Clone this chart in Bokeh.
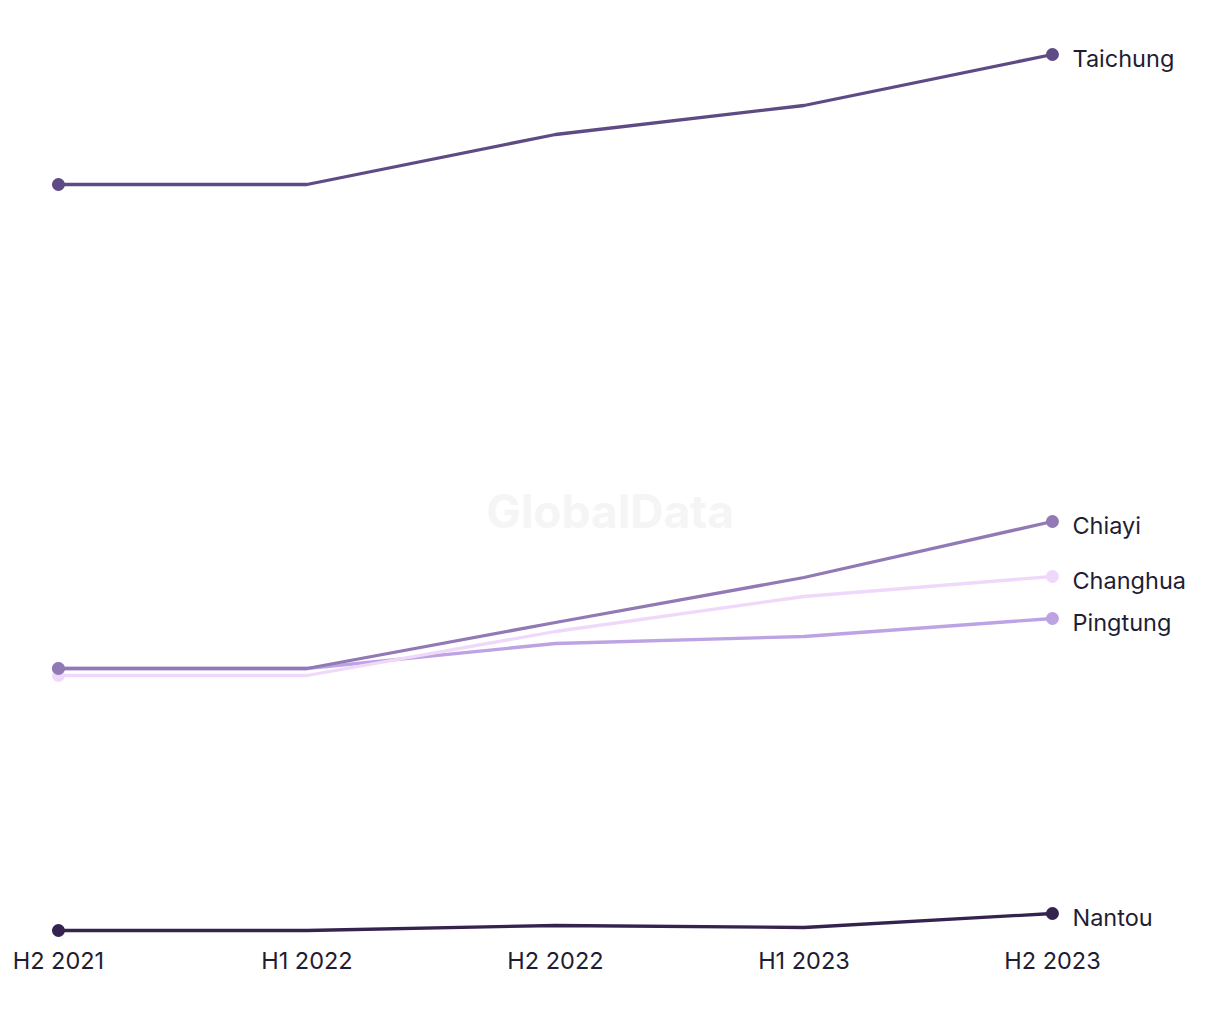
from bokeh.plotting import figure
from bokeh.models import Range1d, FixedTicker
from bokeh.core.properties import value
from bokeh.embed import file_html
from bokeh.resources import INLINE

periods = ["H2 2021", "H1 2022", "H2 2022", "H1 2023", "H2 2023"]
series_names = ["Nantou", "Pingtung", "Changhua", "Chiayi", "Taichung"]
nantou = [0.0, 0.0, 0.5, 0.3, 1.7]
pingtung = [26.2, 26.2, 28.7, 29.4, 31.2]
changhua = [25.5, 25.5, 29.9, 33.4, 35.4]
chiayi = [26.2, 26.2, 30.8, 35.3, 40.9]
taichung = [74.6, 74.6, 79.6, 82.5, 87.6]
colors = ["#35234f", "#bda3e3", "#f0d8fb", "#9179b5", "#5e4a85"]

series_values = [nantou, pingtung, changhua, chiayi, taichung]
xs = list(range(len(periods)))

FONT = "Inter"
TEXT_COLOR = "#1f1d33"

p = figure(width=1208, height=1005, output_backend="svg", toolbar_location=None,
           x_range=Range1d(-0.201, 4.628), y_range=Range1d(-1.5, 92.2),
           min_border_left=8, min_border_right=0, min_border_top=8, min_border_bottom=60)
p.outline_line_color = None
p.xgrid.visible = False
p.ygrid.visible = False
p.yaxis.visible = False
p.background_fill_color = "white"
p.border_fill_color = "white"

# watermark
p.text(x=[2.22], y=[42.0], text=["GlobalData"], text_font=value(FONT), text_font_size="46px",
       text_font_style="bold", text_color="#f5f5f5", text_align="center", text_baseline="middle")

for name, vals, col in zip(series_names, series_values, colors):
    p.line(xs, vals, line_color=col, line_width=3.3)
    p.scatter([xs[0], xs[-1]], [vals[0], vals[-1]], size=13, fill_color=col, line_color=None)
    p.text(x=[xs[-1]], y=[vals[-1]], text=[name], text_font=value(FONT), text_font_size="23.5px",
           text_color=TEXT_COLOR, text_align="left", text_baseline="middle", x_offset=20, y_offset=4)

xa = p.xaxis[0]
xa.ticker = FixedTicker(ticks=xs)
xa.major_label_overrides = {i: lab for i, lab in zip(xs, periods)}
xa.axis_line_color = None
xa.major_tick_line_color = None
xa.minor_tick_line_color = None
xa.major_tick_out = 0
xa.major_tick_in = 0
xa.major_label_standoff = 0
xa.major_label_text_font = FONT
xa.major_label_text_font_size = "23.5px"
xa.major_label_text_color = TEXT_COLOR

open("out.html", "w").write(file_html(p, INLINE))
